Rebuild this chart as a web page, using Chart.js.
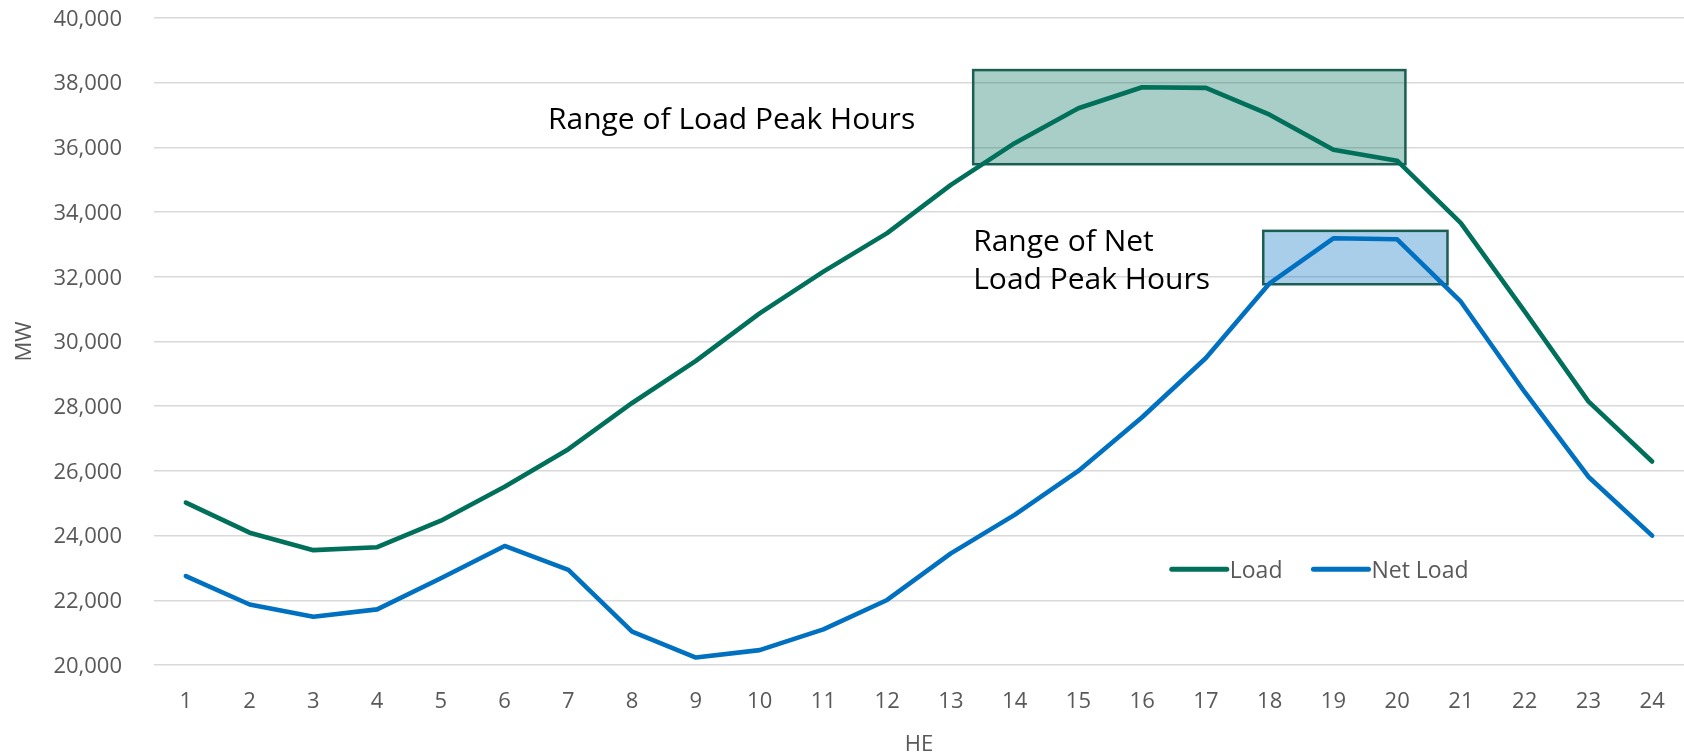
<!DOCTYPE html>
<html>
<head>
<meta charset="utf-8">
<title>Load and Net Load by Hour</title>
<script src="https://cdn.jsdelivr.net/npm/chart.js@4.4.1/dist/chart.umd.min.js"></script>
<style>
    html, body { margin: 0; padding: 0; background: #ffffff; }
    #wrap { width: 1684px; height: 752px; }
</style>
</head>
<body>
<div id="wrap"><canvas id="loadChart" width="1684" height="752"></canvas></div>
<script>
// Hour ending labels and MW values
const hours = ['1', '2', '3', '4', '5', '6', '7', '8', '9', '10', '11', '12',
               '13', '14', '15', '16', '17', '18', '19', '20', '21', '22', '23', '24'];
const loadMW = [25020, 24090, 23550, 23640, 24460, 25510, 26670, 28100, 29400, 30870, 32160, 33350,
                34840, 36130, 37210, 37860, 37840, 37010, 35930, 35590, 33660, 30930, 28150, 26290];
const netLoadMW = [22750, 21870, 21490, 21720, 22680, 23680, 22940, 21030, 20230, 20460, 21100, 22010,
                   23450, 24640, 26000, 27660, 29490, 31800, 33190, 33160, 31230, 28440, 25820, 24000];
const yTicks = [20000, 22000, 24000, 26000, 28000, 30000, 32000, 34000, 36000, 38000, 40000];

// Peak hour ranges: [from hour, to hour, low MW, high MW]
const loadPeakRange = [13.35, 20.13, 35480, 38390];
const netPeakRange = [17.9, 20.79, 31770, 33420];

const FONT = "'Open Sans', 'Noto Sans', sans-serif";
const GREEN = '#00705a';
const BLUE = '#0070c0';
const GREY_TEXT = '#595959';

/**
 * Draws the two shaded peak range boxes, their captions and the inline legend.
 */
const peakRanges = {
    id: 'peakRanges',
    beforeDatasetsDraw(chart) {
        const { ctx, scales: { x, y } } = chart;
        const boxes = [
            [loadPeakRange, 'rgba(0, 112, 90, 0.34)'],
            [netPeakRange, 'rgba(0, 112, 192, 0.34)']
        ];
        ctx.save();
        boxes.forEach(([r, fill]) => {
            const x0 = x.getPixelForValue(r[0] - 1);
            const x1 = x.getPixelForValue(r[1] - 1);
            const y0 = y.getPixelForValue(r[3]);
            const y1 = y.getPixelForValue(r[2]);
            ctx.fillStyle = fill;
            ctx.fillRect(x0, y0, x1 - x0, y1 - y0);
            ctx.strokeStyle = '#1b5e52';
            ctx.lineWidth = 2.5;
            ctx.strokeRect(x0, y0, x1 - x0, y1 - y0);
        });

        // captions, anchored in hour / MW space
        ctx.fillStyle = '#000000';
        ctx.font = `30px ${FONT}`;
        ctx.textAlign = 'left';
        ctx.textBaseline = 'alphabetic';
        ctx.fillText('Range of Load Peak Hours', x.getPixelForValue(5.68), y.getPixelForValue(36570));
        const capX = x.getPixelForValue(loadPeakRange[0] - 1);
        ctx.fillText('Range of Net', capX, y.getPixelForValue(32810));
        ctx.fillText('Load Peak Hours', capX, y.getPixelForValue(31620));
        ctx.restore();
    },
    afterDatasetsDraw(chart) {
        const { ctx, chartArea: area } = chart;
        let lx = area.left + 0.6652 * area.width;
        const ly = area.top + 0.852 * area.height;
        ctx.save();
        ctx.font = `23px ${FONT}`;
        ctx.textBaseline = 'middle';
        ctx.textAlign = 'left';
        chart.data.datasets.forEach(ds => {
            ctx.strokeStyle = ds.borderColor;
            ctx.lineWidth = 5;
            ctx.lineCap = 'round';
            ctx.beginPath();
            ctx.moveTo(lx, ly);
            ctx.lineTo(lx + 55, ly);
            ctx.stroke();
            ctx.fillStyle = GREY_TEXT;
            ctx.fillText(ds.label, lx + 58, ly + 2);
            lx += 58 + ctx.measureText(ds.label).width + 31;
        });
        ctx.restore();
    }
};

new Chart(document.getElementById('loadChart'), {
    type: 'line',
    data: {
        labels: hours,
        datasets: [
            { label: 'Load', data: loadMW, borderColor: GREEN, backgroundColor: GREEN },
            { label: 'Net Load', data: netLoadMW, borderColor: BLUE, backgroundColor: BLUE }
        ]
    },
    options: {
        responsive: false,
        animation: false,
        layout: { padding: { top: 18, right: 0, bottom: 0, left: 0 } },
        elements: {
            point: { radius: 0 },
            line: { borderWidth: 4.6, tension: 0, borderCapStyle: 'round', borderJoinStyle: 'round' }
        },
        plugins: {
            legend: { display: false },
            tooltip: { enabled: false }
        },
        scales: {
            x: {
                offset: true,
                grid: { display: false },
                border: { display: false },
                ticks: { color: GREY_TEXT, font: { family: FONT, size: 22 }, padding: 15.5, maxRotation: 0 },
                title: {
                    display: true, text: 'HE', color: GREY_TEXT,
                    font: { family: FONT, size: 22, lineHeight: 1 }, padding: { top: 0, bottom: -4 }
                },
                afterFit(scale) { scale.height = 87; }
            },
            y: {
                min: 20000,
                max: 40000,
                afterBuildTicks(scale) { scale.ticks = yTicks.map(v => ({ value: v })); },
                grid: { color: '#d9d9d9', lineWidth: 1.5, drawTicks: false },
                border: { display: false },
                ticks: {
                    color: GREY_TEXT, font: { family: FONT, size: 22 }, padding: 32, labelOffset: 1.5,
                    callback: v => v.toLocaleString('en-US')
                },
                title: {
                    display: true, text: 'MW', color: GREY_TEXT,
                    font: { family: FONT, size: 22, lineHeight: 1 }, padding: { top: 13.5, bottom: 0 }
                },
                afterFit(scale) {
                    scale.width = 154;
                    // tick padding would otherwise push the plot top down
                    scale.paddingTop = 0;
                    scale.paddingBottom = 0;
                }
            }
        }
    },
    plugins: [peakRanges]
});
</script>
</body>
</html>
